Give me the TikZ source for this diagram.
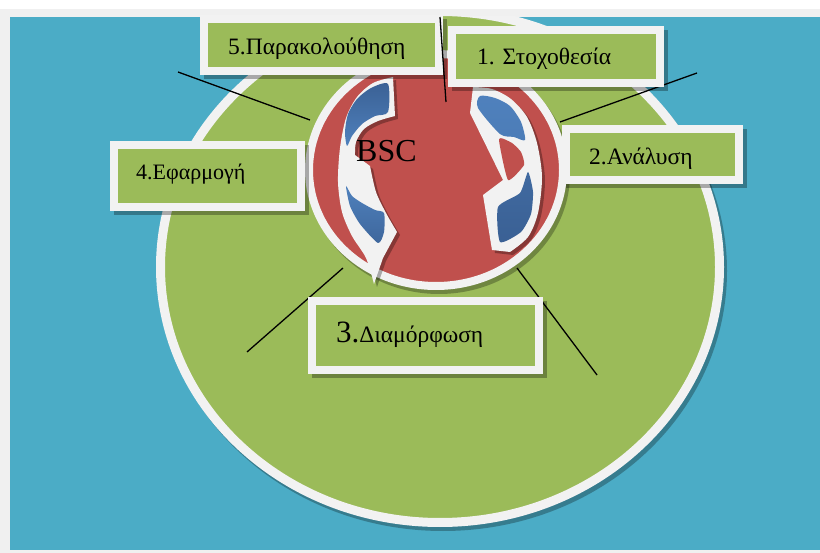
\documentclass[tikz,border=0pt]{standalone}
\usepackage{fontspec}
\setmainfont{Liberation Serif}
\definecolor{bgblue}{HTML}{4BACC6}
\definecolor{framegray}{HTML}{F0F0F0}
\definecolor{ringwhite}{HTML}{F2F2F2}
\definecolor{leafgreen}{HTML}{9BBB59}
\definecolor{corered}{HTML}{C0504D}
\definecolor{arrowlight}{HTML}{4F81BD}
\definecolor{arrowdark}{HTML}{3A6094}
\tikzset{
  labelbox/.style={fill=leafgreen, draw=ringwhite, line width=8pt, inner sep=0pt},
  boxshadow/.style={fill=black, opacity=0.3, inner sep=0pt, draw=none},
  labeltext/.style={anchor=base west, inner sep=0pt, font=\fontsize{23.5}{24}\selectfont},
  spoke/.style={line width=1.3pt, black},
  ringshadow/.style={fill=black, opacity=0.28},
  arrowshadow/.style={fill=black, opacity=0.3},
  arrowwhite/.style={fill=ringwhite},
}
\begin{document}
\begin{tikzpicture}[x=1pt,y=-1pt]
\useasboundingbox (0,0) rectangle (820,553);
% page and frame
\fill[white] (0,0) rectangle (820,553);
\fill[framegray] (0,9) rectangle (820,553);
\fill[bgblue] (10,17) rectangle (820,550);

% large green ellipse with white rim
\begin{scope}
  \clip (10,17) rectangle (820,550);
  \fill[ringshadow] (443,271) ellipse [x radius=284pt, y radius=260pt];
  \filldraw[fill=leafgreen, draw=ringwhite, line width=9pt]
    (440,267) ellipse [x radius=279.5pt, y radius=255.5pt];
\end{scope}

% red core with white rim
\fill[ringshadow] (439,174) ellipse [x radius=131pt, y radius=120pt];
\filldraw[fill=corered, draw=ringwhite, line width=8pt]
  (436,170) ellipse [x radius=127pt, y radius=116pt];

% left circular arrow: white body, then its two blue faces
\def\leftarrowbody{
  (393,77) -- (395,116)
  -- plot[smooth] coordinates {(395,116) (378,121) (364,129) (356,142) (355,155)}
  -- (370,166)
  -- plot[smooth] coordinates {(370,166) (376,192) (386,213) (397,232)}
  -- (383,258) -- (374,284)
  -- plot[smooth] coordinates {(374,284) (366,258) (352,236) (342,212) (338,182)
     (340,148) (346,118) (357,97) (373,83) (393,77)}
  -- cycle}
\fill[arrowshadow, shift={(3,3)}] \leftarrowbody;
\fill[arrowwhite] \leftarrowbody;
\shade[top color=arrowdark, bottom color=arrowlight]
  plot[smooth cycle, tension=0.45] coordinates {(388,84) (388,112) (375,116)
  (362,124) (352,136) (347,146) (345,132) (348,114) (357,99) (371,88)};
\shade[top color=arrowlight, bottom color=arrowdark!80!arrowlight]
  plot[smooth cycle, tension=0.4] coordinates {(346,186) (350,206) (360,224)
  (378,243) (384,232) (384,213) (375,210) (362,203) (352,196)};

% right circular arrow
\def\rightarrowbody{
  (473,87)
  -- plot[smooth] coordinates {(473,87) (492,89) (511,99) (527,117) (537,143)
     (542,177) (538,213) (528,237) (510,252)}
  -- (492,250) -- (483,195) -- (503,180) -- (470,113) -- cycle}
\fill[arrowshadow, shift={(3,3)}] \rightarrowbody;
\fill[arrowwhite] \rightarrowbody;
\fill[corered] plot[smooth cycle, tension=0.3] coordinates
  {(499,139) (512,143) (521,152) (524,165) (508,180)};
\shade[top color=arrowlight, bottom color=arrowlight!85!arrowdark]
  plot[smooth cycle, tension=0.45] coordinates {(480,96) (495,98) (510,106)
  (521,122) (525,140) (514,137) (500,134) (478,108)};
\shade[top color=arrowdark!70!arrowlight, bottom color=arrowdark]
  plot[smooth cycle, tension=0.35] coordinates {(498,207) (520,193) (528,172)
  (533,192) (531,214) (521,232) (500,242)};

\node[anchor=base west, inner sep=0pt, font=\fontsize{32}{32}\selectfont] (bsc) at (356,162) {BSC};

% spokes from the core outwards
\coordinate (hubTop) at (446,102);
\coordinate (endTop) at (440,17);
\coordinate (hubNW) at (310,120);
\coordinate (endNW) at (178,72);
\coordinate (hubNE) at (560,122);
\coordinate (endNE) at (697,73);
\coordinate (hubSW) at (343,268);
\coordinate (endSW) at (247,352);
\coordinate (hubSE) at (517,268);
\coordinate (endSE) at (597,375);
\draw[spoke] (hubNW) -- (endNW);
\draw[spoke] (hubNE) -- (endNE);
\draw[spoke] (hubSW) -- (endSW);
\draw[spoke] (hubSE) -- (endSE);

% label boxes
\node[boxshadow, minimum width=242.5pt, minimum height=59.5pt] at (325.25,49.25) {};
\node[labelbox, minimum width=234.5pt, minimum height=51.5pt] (box5) at (321.25,45.25) {};
\node[labeltext] (t5) at (228,55) {5.Παρακολούθηση};

\draw[spoke] (hubTop) -- (endTop);

\node[boxshadow, minimum width=216.5pt, minimum height=61.5pt] at (559.75,60.75) {};
\node[labelbox, minimum width=208.5pt, minimum height=53.5pt] (box1) at (555.75,56.75) {};
\node[labeltext] (t1) at (477,65) {1. Στοχοθεσία};

\node[boxshadow, minimum width=181pt, minimum height=59pt] at (656.5,158.5) {};
\node[labelbox, minimum width=173pt, minimum height=51pt] (box2) at (652.5,154.5) {};
\node[labeltext] (t2) at (589,165) {2.Ανάλυση};

\node[boxshadow, minimum width=195.5pt, minimum height=70.5pt] at (211.25,180.25) {};
\node[labelbox, minimum width=187.5pt, minimum height=62.5pt] (box4) at (207.25,176.25) {};
\node[labeltext, font=\fontsize{22}{22}\selectfont] (t4) at (136,180) {4.Εφαρμογή};

\node[boxshadow, minimum width=235.5pt, minimum height=77.5pt] at (429.25,339.75) {};
\node[labelbox, minimum width=227.5pt, minimum height=69.5pt] (box3) at (425.25,335.75) {};
\node[labeltext] (t3) at (336,343) {{\fontsize{31}{31}\selectfont 3.}Διαμόρφωση};
\end{tikzpicture}
\end{document}
